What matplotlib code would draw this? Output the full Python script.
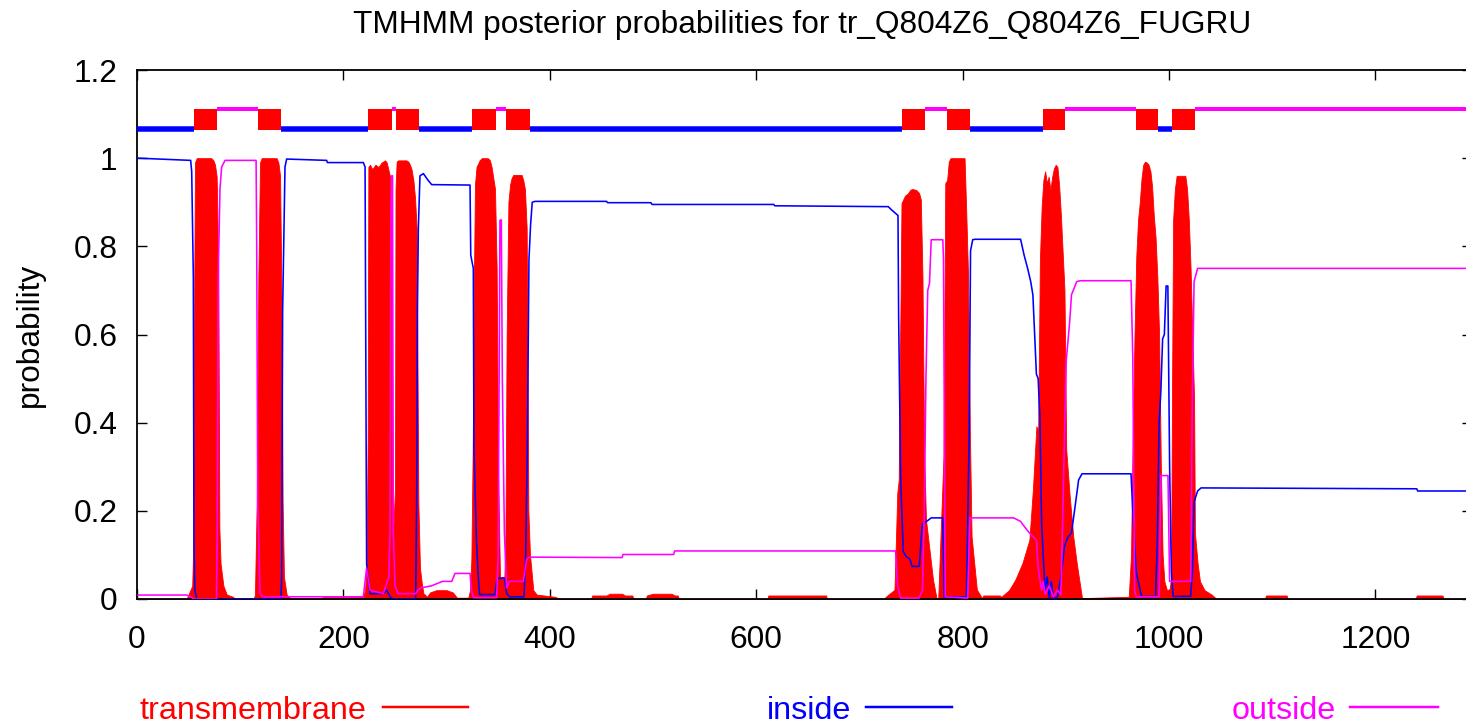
import matplotlib
matplotlib.use("Agg")
import matplotlib.pyplot as plt
from matplotlib.lines import Line2D

W, H, DPI = 1466, 728, 100
plt.rcParams['font.family'] = ['Liberation Sans', 'DejaVu Sans']

# ---------------- data ----------------
title = "TMHMM posterior probabilities for tr_Q804Z6_Q804Z6_FUGRU"
x_max = 1293.6
x_ticks = [0, 200, 400, 600, 800, 1000, 1200]
y_ticks = [0, 0.2, 0.4, 0.6, 0.8, 1.0, 1.2]
y_tick_labels = ["0", "0.2", "0.4", "0.6", "0.8", "1", "1.2"]
legend_labels = ["transmembrane", "inside", "outside"]

tm_pos = [1, 48, 49, 53.5, 54.6, 55.5, 56.2, 57.8, 72, 74, 75.6, 77.2, 78.8, 79.8, 81, 83.7, 87, 93, 95,
          113, 114.3, 116, 117.6, 119.2, 120.8, 135.3, 137, 138.6, 140.2, 141.1, 142.4, 145, 148, 150,
          178, 180, 214, 219, 221, 222.5, 223.5, 224.2, 225.8, 228, 231, 234, 237, 240.4, 242, 244, 245.2,
          246.8, 247.5, 248.4, 250, 250.5, 251.6, 253, 261, 263, 264.5, 266, 267.8, 269.4, 271, 272.6,
          274.2, 276, 277.5, 281, 284, 290, 300, 306, 310, 321, 322.7, 324, 325.3, 326.5, 327.5, 329, 332,
          334, 340, 342, 343.6, 346.9, 348.5, 350, 351.7, 356, 357, 358.2, 359.9, 361.5, 363, 364.6, 372.7,
          374.3, 375.9, 377.6, 379.2, 380.8, 382.4, 384, 387.3, 405, 410,
          440, 441, 455, 458, 470, 473, 480, 481, 493, 494, 500, 518, 521, 524, 525,
          611, 611.7, 667.8, 668.5,
          724, 725.5, 734, 736.7, 738.1, 740.8, 744.2, 747, 749.3, 751, 755, 757.8, 759.5, 761.1, 762.8,
          764.5, 767.9, 771.3, 774.7, 776.4, 781.5, 783.2, 785, 786.6, 788.3, 801.9, 803.6, 805.3, 807,
          808.7, 813.8, 818.9, 820, 836, 837.5, 845, 851.1, 857.9, 864.7, 868.1, 871.5, 873.2, 874.9, 876.6,
          878.3, 880, 881.7, 883.4, 885.1, 886.8, 888.5, 890.2, 891.9, 893.6, 895.3, 898.7, 900.4, 903.8,
          907.2, 910.6, 915.7, 961, 963.2, 964.9, 966.6, 968.3, 970, 971.7, 973.4, 975, 976.8, 978.5,
          980.2, 982, 983.6, 985.3, 987, 988.7, 990.4, 992.1, 993.8, 995.5, 998, 1000.6, 1002, 1003, 1004,
          1005.7, 1007.4, 1015.8, 1017.5, 1019.2, 1020.9, 1022.6, 1024.3, 1025.1, 1027.7, 1030, 1034.5,
          1041.3, 1044.7, 1046,
          1093, 1094, 1114, 1115, 1239, 1240, 1265, 1266, 1293.6]
tm_prob = [0, 0, 0.005, 0.03, 0.13, 0.73, 0.99, 1.0, 1.0, 0.995, 0.985, 0.958, 0.74, 0.16, 0.08, 0.03, 0.01, 0.005, 0,
           0, 0.01, 0.22, 0.73, 0.99, 1.0, 1.0, 0.99, 0.96, 0.65, 0.22, 0.05, 0.01, 0.003, 0,
           0, 0.004, 0.004, 0.005, 0.02, 0.07, 0.36, 0.98, 0.985, 0.975, 0.985, 0.98, 0.99, 0.995, 0.99, 0.97, 0.958,
           0.85, 0.3, 0.16, 0.25, 0.93, 0.992, 0.995, 0.995, 0.992, 0.985, 0.975, 0.95, 0.91, 0.84, 0.22,
           0.07, 0.035, 0.013, 0.005, 0.015, 0.02, 0.02, 0.015, 0.003, 0.003, 0.02, 0.09, 0.34, 0.73, 0.94, 0.98, 0.995,
           1.0, 1.0, 0.995, 0.98, 0.93, 0.75, 0.28, 0.05, 0.05, 0.15, 0.6, 0.9, 0.94, 0.955, 0.962, 0.962,
           0.95, 0.93, 0.84, 0.2, 0.1, 0.06, 0.02, 0.01, 0.005, 0,
           0, 0.008, 0.008, 0.012, 0.012, 0.008, 0.008, 0, 0, 0.008, 0.012, 0.012, 0.008, 0.008, 0,
           0, 0.008, 0.008, 0,
           0, 0.005, 0.021, 0.24, 0.27, 0.898, 0.915, 0.92, 0.928, 0.93, 0.928, 0.921, 0.906, 0.732, 0.324,
           0.18, 0.112, 0.044, 0.002, 0.002, 0.324, 0.943, 0.95, 0.992, 1.0, 1.0, 0.872, 0.732, 0.384,
           0.142, 0.021, 0.002, 0.008, 0.008, 0.005, 0.02, 0.044, 0.081, 0.134, 0.248, 0.392, 0.38, 0.769, 0.89,
           0.951, 0.97, 0.943, 0.958, 0.928, 0.958, 0.977, 0.985, 0.98, 0.936, 0.868, 0.701, 0.339, 0.232,
           0.142, 0.081, 0.002, 0.005, 0.1, 0.38, 0.6, 0.777, 0.86, 0.9, 0.955, 0.985, 0.992, 0.99,
           0.985, 0.97, 0.936, 0.868, 0.82, 0.73, 0.6, 0.3, 0.1, 0.04, 0.02, 0.02, 0.05, 0.5, 0.86,
           0.93, 0.96, 0.96, 0.93, 0.86, 0.75, 0.6, 0.452, 0.15, 0.081, 0.04, 0.02,
           0.01, 0.003, 0,
           0, 0.008, 0.008, 0, 0, 0.008, 0.008, 0, 0]

inside_pos = [1, 52, 53, 54.6, 55.2, 56, 58, 139.5, 140.2, 141.1, 143.4, 145, 183.8, 184.5, 219.3, 221,
              222.5, 225.8, 238.7, 242, 245.2, 248, 270, 271, 271.7, 272.6, 274.2, 277.5, 282, 285.5,
              322.7, 323.4, 325.9, 326.5, 329, 330.7, 332, 346.9, 348.5, 350, 356, 358.2, 361, 375, 376.6,
              378.2, 379.8, 381.4, 383, 385.7, 455, 456, 498, 499, 617, 618, 728, 731, 737.4, 738, 740,
              742.5, 745, 749, 751, 758, 761, 764.5, 769.6, 780.8, 782.2, 803.6, 804.5, 806.4, 807.7,
              809.8, 812, 856.2, 859.6, 863, 866, 868.1, 870, 871.5, 873.2, 874.9, 876.6, 878.3, 880, 882,
              884, 886, 888, 892, 895.3, 898.7, 902, 905.5, 909, 912.4, 915.7, 963.2, 964.9, 968.3, 973.4,
              987, 988.7, 990.4, 992.1, 993.8, 995.5, 997.2, 998.9, 1000.6, 1002.3, 1004, 1020.9, 1022.6,
              1024.3, 1027.7, 1031.1, 1240, 1241, 1293.6]
inside_prob = [1.0, 0.995, 0.97, 0.73, 0.13, 0.02, 0.0, 0.0, 0.05, 0.65, 0.98, 0.998, 0.995, 0.99, 0.99, 0.98,
               0.08, 0.012, 0.012, 0.02, 0.005, 0.0, 0.0, 0.22, 0.65, 0.84, 0.96, 0.965, 0.95, 0.94,
               0.939, 0.78, 0.75, 0.34, 0.13, 0.05, 0.01, 0.01, 0.04, 0.047, 0.047, 0.013, 0.005, 0.005, 0.1,
               0.34, 0.77, 0.85, 0.9, 0.902, 0.902, 0.899, 0.899, 0.895, 0.895, 0.892, 0.89, 0.883, 0.87, 0.645, 0.27,
               0.108, 0.097, 0.09, 0.074, 0.074, 0.17, 0.175, 0.184, 0.184, 0.005, 0.005, 0.1, 0.38, 0.79,
               0.815, 0.816, 0.816, 0.78, 0.75, 0.72, 0.69, 0.59, 0.51, 0.5, 0.41, 0.17, 0.09, 0.02, 0.05,
               0.0, 0.04, 0.0, 0.005, 0.05, 0.12, 0.14, 0.15, 0.21, 0.27, 0.284, 0.284, 0.2, 0.06, 0.006,
               0.006, 0.13, 0.4, 0.47, 0.59, 0.6, 0.71, 0.71, 0.3, 0.06, 0.006, 0.006, 0.06,
               0.22, 0.245, 0.252, 0.25, 0.245, 0.245]

outside_pos = [1, 48, 52, 55, 77, 77.8, 78.8, 80.4, 82, 85.3, 115.4, 116, 117, 119.2, 122, 219.3, 222.5,
               225.8, 238.7, 244, 245.2, 246, 246.8, 247.6, 248.4, 250, 253, 270, 272, 275, 285.5, 296,
               305, 308.1, 322.7, 324, 326, 348.5, 350, 351.7, 353, 354, 356, 358.2, 361, 374.3, 377.6,
               380, 470, 471, 520, 521, 735, 737, 740, 757.8, 761.1, 762.8, 764.5, 766.2, 767.9, 769.6,
               780.8, 781.5, 782.5, 783.2, 805, 807, 812, 849.5, 856.2, 859.6, 864.7, 868.1, 871.5, 873.2,
               876.6, 878, 880, 884, 888, 892, 895.3, 900.4, 903.8, 905.5, 910.6, 914, 963.2, 964.9, 966.6,
               968.3, 990.4, 992.1, 997.2, 999, 1000.6, 1002.3, 1021, 1022.6, 1024.3, 1027.7, 1293.6]
outside_prob = [0.009, 0.009, 0.005, 0.0, 0.0, 0.16, 0.74, 0.93, 0.98, 0.995, 0.995, 0.8, 0.22, 0.013, 0.005, 0.005, 0.07,
                0.02, 0.012, 0.05, 0.15, 0.88, 0.96, 0.96, 0.15, 0.03, 0.012, 0.012, 0.02, 0.025, 0.03, 0.04,
                0.04, 0.058, 0.058, 0.02, 0.003, 0.003, 0.1, 0.859, 0.86, 0.5, 0.15, 0.025, 0.04, 0.04, 0.09,
                0.095, 0.094, 0.101, 0.101, 0.109, 0.109, 0.03, 0.002, 0.002, 0.02, 0.19, 0.505, 0.70, 0.716, 0.815,
                0.815, 0.77, 0.3, 0.005, 0.002, 0.184, 0.184, 0.184, 0.176, 0.165, 0.15, 0.142, 0.134, 0.07,
                0.02, 0.04, 0.01, 0.03, 0.005, 0.02, 0.01, 0.54, 0.63, 0.69, 0.72, 0.722, 0.722, 0.55, 0.02,
                0.005, 0.005, 0.28, 0.28, 0.28, 0.04, 0.04, 0.04, 0.45, 0.72, 0.75, 0.75]

tm_segments = [(55, 78), (117, 140), (224, 247), (251, 273), (325, 348), (358, 381),
               (741.6, 763.6), (785, 807), (877.6, 899), (968, 989), (1003, 1025)]
inside_segments = [(0, 55), (140, 224), (273, 325), (381, 741.6), (807, 877.6), (989, 1003)]
outside_segments = [(78, 117), (247, 251), (348, 358), (763.6, 785), (899, 968), (1025, 1293.6)]

# ---------------- style ----------------
RED, BLUE, MAG = "#ff0000", "#0000ff", "#ff00ff"
FS = 22.8
FS_LEG = 23.3
px = 72.0 / DPI  # points per pixel

fig = plt.figure(figsize=(W / DPI, H / DPI), dpi=DPI)
ax = fig.add_axes([137 / W, (H - 599) / H, (1472 - 137) / W, (599 - 70) / H])

ax.fill_between(tm_pos, 0, tm_prob, color=RED, lw=0.6, edgecolor=RED, zorder=2)
ax.plot(inside_pos, inside_prob, color=BLUE, lw=1.6 * px, zorder=3)
ax.plot(outside_pos, outside_prob, color=MAG, lw=1.6 * px, zorder=4)

for s, e in inside_segments:
    ax.plot([s, e], [1.066, 1.066], color=BLUE, lw=5.5 * px, solid_capstyle='butt', zorder=3)
for s, e in outside_segments:
    ax.plot([s, e], [1.112, 1.112], color=MAG, lw=4 * px, solid_capstyle='butt', zorder=3)
for s, e in tm_segments:
    ax.fill_between([s, e], 1.063, 1.111, color=RED, lw=0, zorder=4)

ax.set_xlim(0, x_max)
ax.set_ylim(0, 1.2)
ax.set_xticks(x_ticks)
ax.set_xticklabels([str(t) for t in x_ticks])
ax.set_yticks(y_ticks)
ax.set_yticklabels(y_tick_labels)
ax.tick_params(direction='in', length=10 * px, width=1.0, top=True, right=True,
               labelsize=FS, pad=19, colors='black')
ax.tick_params(axis='y', pad=14)
for sp in ax.spines.values():
    sp.set_linewidth(1.3)
    sp.set_color('black')

fig.text(802 / W, 1 - 25 / H, title, ha='center', va='center', fontsize=FS)
fig.text(30 / W, 1 - 335 / H, "probability", rotation=90, ha='center', va='center', fontsize=FS)

# legend along the bottom
legend_colors = [RED, BLUE, MAG]
text_x = [140, 767, 1232]
line_x = [(383, 468), (866, 952), (1350, 1438)]
ly = 1 - 707 / H
for lab, c, tx, (l0, l1) in zip(legend_labels, legend_colors, text_x, line_x):
    fig.text(tx / W, 1 - 719 / H, lab, color=c, ha='left', va='baseline', fontsize=FS_LEG)
    fig.add_artist(Line2D([l0 / W, l1 / W], [ly, ly], transform=fig.transFigure,
                          color=c, lw=2.5 * px))

fig.savefig("out.png", dpi=DPI)
